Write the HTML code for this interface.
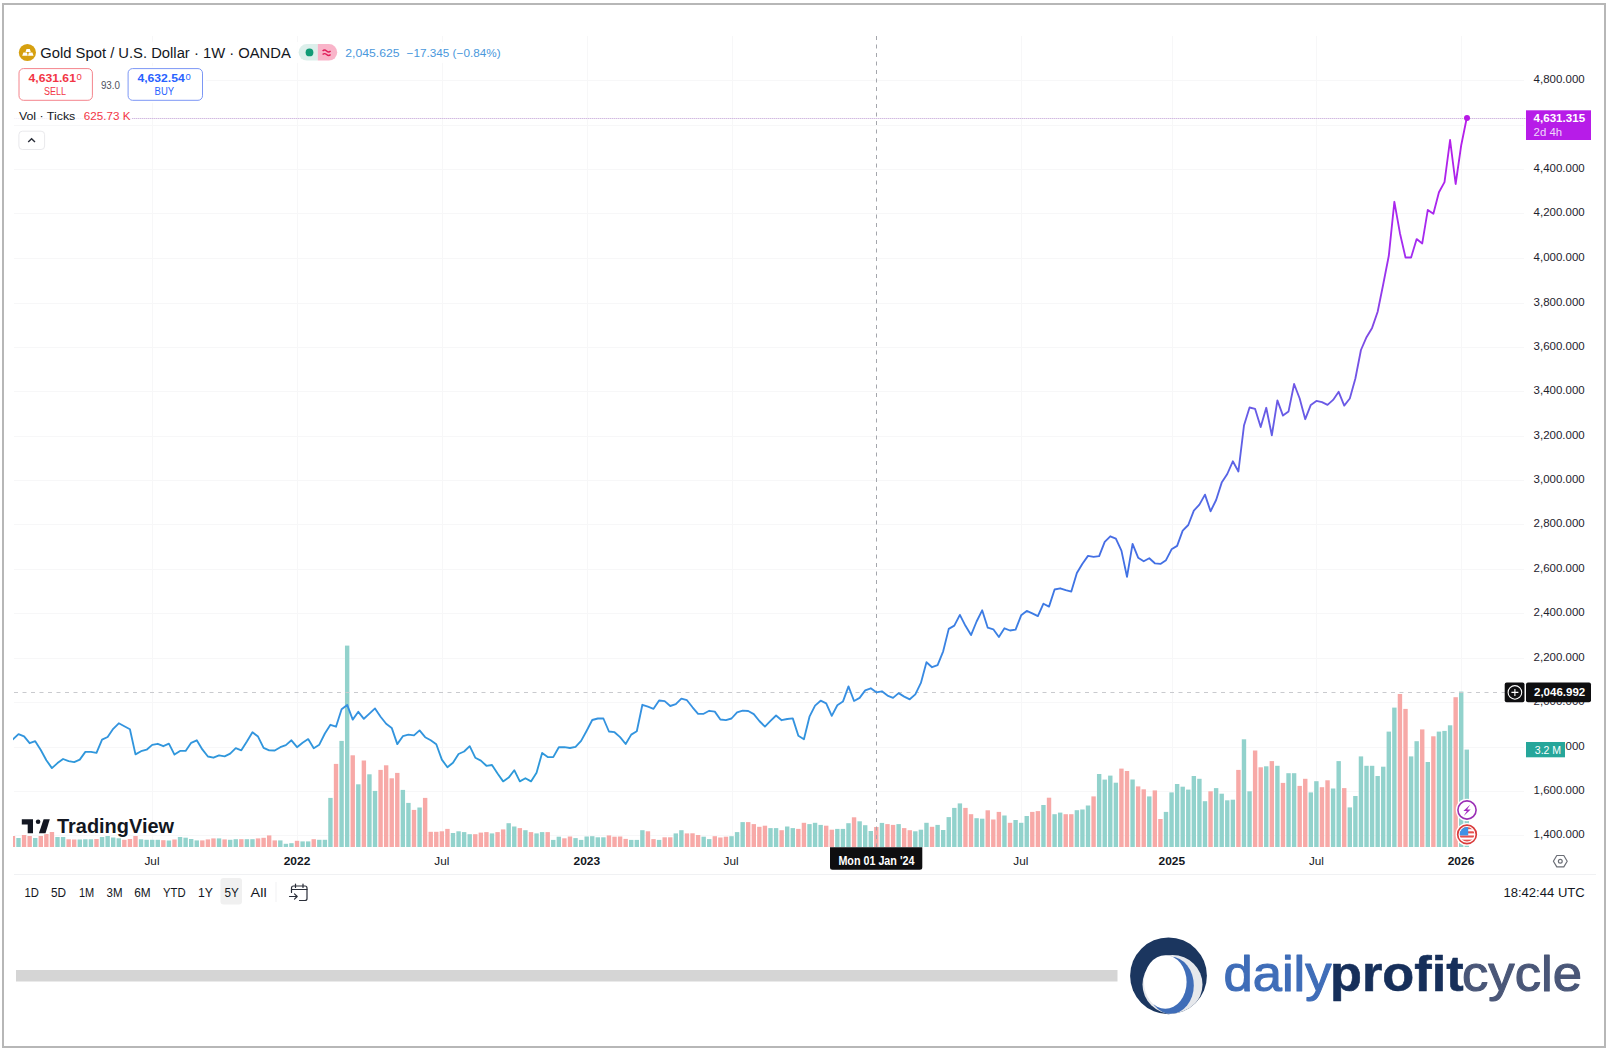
<!DOCTYPE html><html><head><meta charset="utf-8"><title>Gold Spot / U.S. Dollar</title>
<style>html,body{margin:0;padding:0;background:#fff;}body{width:1609px;height:1051px;overflow:hidden;position:relative;font-family:"Liberation Sans",sans-serif;}svg{position:absolute;left:0;top:0;display:block}text{font-family:"Liberation Sans",sans-serif;}</style></head><body>
<svg width="1609" height="1051" viewBox="0 0 1609 1051">
<defs><linearGradient id="lg" gradientUnits="userSpaceOnUse" x1="0" y1="118" x2="0" y2="780"><stop offset="0" stop-color="#b61ee8"/><stop offset="0.2" stop-color="#a42cf0"/><stop offset="0.252" stop-color="#9638ec"/><stop offset="0.311" stop-color="#8248e4"/><stop offset="0.411" stop-color="#6e58e6"/><stop offset="0.683" stop-color="#4071e4"/><stop offset="0.879" stop-color="#3790e2"/><stop offset="1" stop-color="#2c9ad8"/></linearGradient><clipPath id="pane"><rect x="13" y="36" width="1511" height="811.5"/></clipPath></defs>
<rect x="0" y="0" width="1609" height="1051" fill="#ffffff"/>
<rect x="3" y="4" width="1602" height="1043" fill="none" stroke="#b7b7b7" stroke-width="2"/>
<rect x="152" y="36" width="1" height="811" fill="#f7f7f8"/>
<rect x="297" y="36" width="1" height="811" fill="#f7f7f8"/>
<rect x="442" y="36" width="1" height="811" fill="#f7f7f8"/>
<rect x="587" y="36" width="1" height="811" fill="#f7f7f8"/>
<rect x="732" y="36" width="1" height="811" fill="#f7f7f8"/>
<rect x="1021" y="36" width="1" height="811" fill="#f7f7f8"/>
<rect x="1172" y="36" width="1" height="811" fill="#f7f7f8"/>
<rect x="1316" y="36" width="1" height="811" fill="#f7f7f8"/>
<rect x="1461" y="36" width="1" height="811" fill="#f7f7f8"/>
<rect x="14" y="835" width="1510" height="1" fill="#f7f7f8"/>
<rect x="14" y="791" width="1510" height="1" fill="#f7f7f8"/>
<rect x="14" y="747" width="1510" height="1" fill="#f7f7f8"/>
<rect x="14" y="702" width="1510" height="1" fill="#f7f7f8"/>
<rect x="14" y="658" width="1510" height="1" fill="#f7f7f8"/>
<rect x="14" y="613" width="1510" height="1" fill="#f7f7f8"/>
<rect x="14" y="569" width="1510" height="1" fill="#f7f7f8"/>
<rect x="14" y="524" width="1510" height="1" fill="#f7f7f8"/>
<rect x="14" y="480" width="1510" height="1" fill="#f7f7f8"/>
<rect x="14" y="436" width="1510" height="1" fill="#f7f7f8"/>
<rect x="14" y="391" width="1510" height="1" fill="#f7f7f8"/>
<rect x="14" y="347" width="1510" height="1" fill="#f7f7f8"/>
<rect x="14" y="303" width="1510" height="1" fill="#f7f7f8"/>
<rect x="14" y="258" width="1510" height="1" fill="#f7f7f8"/>
<rect x="14" y="213" width="1510" height="1" fill="#f7f7f8"/>
<rect x="14" y="169" width="1510" height="1" fill="#f7f7f8"/>
<rect x="14" y="125" width="1510" height="1" fill="#f7f7f8"/>
<rect x="14" y="80" width="1510" height="1" fill="#f7f7f8"/>
<g clip-path="url(#pane)">
<rect x="10.74" y="836.0" width="4.4" height="11.0" fill="#f7a9a7"/>
<rect x="16.31" y="838.0" width="4.4" height="9.0" fill="#92d2cc"/>
<rect x="21.88" y="835.0" width="4.4" height="12.0" fill="#f7a9a7"/>
<rect x="27.45" y="836.0" width="4.4" height="11.0" fill="#f7a9a7"/>
<rect x="33.02" y="838.0" width="4.4" height="9.0" fill="#92d2cc"/>
<rect x="38.59" y="836.0" width="4.4" height="11.0" fill="#f7a9a7"/>
<rect x="44.16" y="834.0" width="4.4" height="13.0" fill="#f7a9a7"/>
<rect x="49.73" y="832.0" width="4.4" height="15.0" fill="#f7a9a7"/>
<rect x="55.30" y="837.0" width="4.4" height="10.0" fill="#92d2cc"/>
<rect x="60.87" y="837.0" width="4.4" height="10.0" fill="#92d2cc"/>
<rect x="66.44" y="839.3" width="4.4" height="7.7" fill="#f7a9a7"/>
<rect x="72.01" y="839.5" width="4.4" height="7.5" fill="#f7a9a7"/>
<rect x="77.58" y="839.5" width="4.4" height="7.5" fill="#92d2cc"/>
<rect x="83.15" y="839.3" width="4.4" height="7.7" fill="#92d2cc"/>
<rect x="88.72" y="839.3" width="4.4" height="7.7" fill="#92d2cc"/>
<rect x="94.29" y="839.0" width="4.4" height="8.0" fill="#f7a9a7"/>
<rect x="99.86" y="837.0" width="4.4" height="10.0" fill="#92d2cc"/>
<rect x="105.44" y="836.0" width="4.4" height="11.0" fill="#92d2cc"/>
<rect x="111.01" y="837.5" width="4.4" height="9.5" fill="#92d2cc"/>
<rect x="116.58" y="838.3" width="4.4" height="8.7" fill="#92d2cc"/>
<rect x="122.15" y="839.8" width="4.4" height="7.2" fill="#f7a9a7"/>
<rect x="127.72" y="839.0" width="4.4" height="8.0" fill="#f7a9a7"/>
<rect x="133.29" y="836.0" width="4.4" height="11.0" fill="#f7a9a7"/>
<rect x="138.86" y="839.3" width="4.4" height="7.7" fill="#92d2cc"/>
<rect x="144.43" y="839.8" width="4.4" height="7.2" fill="#92d2cc"/>
<rect x="150.00" y="839.8" width="4.4" height="7.2" fill="#92d2cc"/>
<rect x="155.57" y="839.8" width="4.4" height="7.2" fill="#92d2cc"/>
<rect x="161.14" y="840.2" width="4.4" height="6.8" fill="#f7a9a7"/>
<rect x="166.71" y="840.5" width="4.4" height="6.5" fill="#92d2cc"/>
<rect x="172.28" y="839.5" width="4.4" height="7.5" fill="#f7a9a7"/>
<rect x="177.85" y="837.0" width="4.4" height="10.0" fill="#92d2cc"/>
<rect x="183.42" y="837.7" width="4.4" height="9.3" fill="#92d2cc"/>
<rect x="188.99" y="839.0" width="4.4" height="8.0" fill="#92d2cc"/>
<rect x="194.56" y="840.4" width="4.4" height="6.6" fill="#92d2cc"/>
<rect x="200.13" y="840.4" width="4.4" height="6.6" fill="#f7a9a7"/>
<rect x="205.70" y="839.4" width="4.4" height="7.6" fill="#f7a9a7"/>
<rect x="211.27" y="838.4" width="4.4" height="8.6" fill="#f7a9a7"/>
<rect x="216.84" y="838.4" width="4.4" height="8.6" fill="#92d2cc"/>
<rect x="222.41" y="839.4" width="4.4" height="7.6" fill="#f7a9a7"/>
<rect x="227.98" y="839.8" width="4.4" height="7.2" fill="#92d2cc"/>
<rect x="233.55" y="839.2" width="4.4" height="7.8" fill="#92d2cc"/>
<rect x="239.12" y="839.2" width="4.4" height="7.8" fill="#f7a9a7"/>
<rect x="244.69" y="839.2" width="4.4" height="7.8" fill="#92d2cc"/>
<rect x="250.26" y="839.2" width="4.4" height="7.8" fill="#92d2cc"/>
<rect x="255.83" y="838.4" width="4.4" height="8.6" fill="#f7a9a7"/>
<rect x="261.40" y="837.8" width="4.4" height="9.2" fill="#f7a9a7"/>
<rect x="266.97" y="835.4" width="4.4" height="11.6" fill="#f7a9a7"/>
<rect x="272.54" y="840.4" width="4.4" height="6.6" fill="#f7a9a7"/>
<rect x="278.11" y="840.4" width="4.4" height="6.6" fill="#92d2cc"/>
<rect x="283.68" y="843.8" width="4.4" height="3.2" fill="#92d2cc"/>
<rect x="289.25" y="843.2" width="4.4" height="3.8" fill="#92d2cc"/>
<rect x="294.83" y="840.8" width="4.4" height="6.2" fill="#f7a9a7"/>
<rect x="300.40" y="841.4" width="4.4" height="5.6" fill="#92d2cc"/>
<rect x="305.97" y="841.4" width="4.4" height="5.6" fill="#92d2cc"/>
<rect x="311.54" y="839.2" width="4.4" height="7.8" fill="#f7a9a7"/>
<rect x="317.11" y="839.8" width="4.4" height="7.2" fill="#92d2cc"/>
<rect x="322.68" y="839.8" width="4.4" height="7.2" fill="#92d2cc"/>
<rect x="328.25" y="797.9" width="4.4" height="49.1" fill="#92d2cc"/>
<rect x="333.82" y="763.9" width="4.4" height="83.1" fill="#f7a9a7"/>
<rect x="339.39" y="740.9" width="4.4" height="106.1" fill="#92d2cc"/>
<rect x="344.96" y="645.6" width="4.4" height="201.4" fill="#92d2cc"/>
<rect x="350.53" y="755.3" width="4.4" height="91.7" fill="#f7a9a7"/>
<rect x="356.10" y="784.3" width="4.4" height="62.7" fill="#92d2cc"/>
<rect x="361.67" y="760.5" width="4.4" height="86.5" fill="#f7a9a7"/>
<rect x="367.24" y="774.3" width="4.4" height="72.7" fill="#92d2cc"/>
<rect x="372.81" y="790.9" width="4.4" height="56.1" fill="#92d2cc"/>
<rect x="378.38" y="769.9" width="4.4" height="77.1" fill="#f7a9a7"/>
<rect x="383.95" y="765.3" width="4.4" height="81.7" fill="#f7a9a7"/>
<rect x="389.52" y="778.3" width="4.4" height="68.7" fill="#f7a9a7"/>
<rect x="395.09" y="772.9" width="4.4" height="74.1" fill="#f7a9a7"/>
<rect x="400.66" y="789.9" width="4.4" height="57.1" fill="#92d2cc"/>
<rect x="406.23" y="802.9" width="4.4" height="44.1" fill="#92d2cc"/>
<rect x="411.80" y="809.9" width="4.4" height="37.1" fill="#f7a9a7"/>
<rect x="417.37" y="807.5" width="4.4" height="39.5" fill="#92d2cc"/>
<rect x="422.94" y="797.9" width="4.4" height="49.1" fill="#f7a9a7"/>
<rect x="428.51" y="831.8" width="4.4" height="15.2" fill="#f7a9a7"/>
<rect x="434.08" y="831.8" width="4.4" height="15.2" fill="#f7a9a7"/>
<rect x="439.65" y="831.3" width="4.4" height="15.7" fill="#f7a9a7"/>
<rect x="445.22" y="828.9" width="4.4" height="18.1" fill="#f7a9a7"/>
<rect x="450.79" y="833.0" width="4.4" height="14.0" fill="#92d2cc"/>
<rect x="456.36" y="831.3" width="4.4" height="15.7" fill="#92d2cc"/>
<rect x="461.93" y="832.1" width="4.4" height="14.9" fill="#92d2cc"/>
<rect x="467.50" y="834.2" width="4.4" height="12.8" fill="#92d2cc"/>
<rect x="473.07" y="834.2" width="4.4" height="12.8" fill="#f7a9a7"/>
<rect x="478.65" y="832.6" width="4.4" height="14.4" fill="#f7a9a7"/>
<rect x="484.22" y="832.1" width="4.4" height="14.9" fill="#f7a9a7"/>
<rect x="489.79" y="833.4" width="4.4" height="13.6" fill="#92d2cc"/>
<rect x="495.36" y="832.1" width="4.4" height="14.9" fill="#f7a9a7"/>
<rect x="500.93" y="829.4" width="4.4" height="17.6" fill="#f7a9a7"/>
<rect x="506.50" y="823.2" width="4.4" height="23.8" fill="#92d2cc"/>
<rect x="512.07" y="826.5" width="4.4" height="20.5" fill="#92d2cc"/>
<rect x="517.64" y="828.1" width="4.4" height="18.9" fill="#f7a9a7"/>
<rect x="523.21" y="830.2" width="4.4" height="16.8" fill="#92d2cc"/>
<rect x="528.78" y="832.1" width="4.4" height="14.9" fill="#f7a9a7"/>
<rect x="534.35" y="833.4" width="4.4" height="13.6" fill="#92d2cc"/>
<rect x="539.92" y="832.1" width="4.4" height="14.9" fill="#92d2cc"/>
<rect x="545.49" y="832.1" width="4.4" height="14.9" fill="#f7a9a7"/>
<rect x="551.06" y="839.9" width="4.4" height="7.1" fill="#92d2cc"/>
<rect x="556.63" y="836.7" width="4.4" height="10.3" fill="#92d2cc"/>
<rect x="562.20" y="838.3" width="4.4" height="8.7" fill="#f7a9a7"/>
<rect x="567.77" y="836.5" width="4.4" height="10.5" fill="#f7a9a7"/>
<rect x="573.34" y="838.1" width="4.4" height="8.9" fill="#92d2cc"/>
<rect x="578.91" y="839.9" width="4.4" height="7.1" fill="#92d2cc"/>
<rect x="584.48" y="836.5" width="4.4" height="10.5" fill="#92d2cc"/>
<rect x="590.05" y="836.2" width="4.4" height="10.8" fill="#92d2cc"/>
<rect x="595.62" y="837.3" width="4.4" height="9.7" fill="#92d2cc"/>
<rect x="601.19" y="837.3" width="4.4" height="9.7" fill="#92d2cc"/>
<rect x="606.76" y="835.4" width="4.4" height="11.6" fill="#f7a9a7"/>
<rect x="612.33" y="836.7" width="4.4" height="10.3" fill="#f7a9a7"/>
<rect x="617.90" y="836.5" width="4.4" height="10.5" fill="#f7a9a7"/>
<rect x="623.47" y="838.9" width="4.4" height="8.1" fill="#f7a9a7"/>
<rect x="629.04" y="839.9" width="4.4" height="7.1" fill="#92d2cc"/>
<rect x="634.61" y="839.9" width="4.4" height="7.1" fill="#92d2cc"/>
<rect x="640.18" y="830.2" width="4.4" height="16.8" fill="#92d2cc"/>
<rect x="645.75" y="831.3" width="4.4" height="15.7" fill="#f7a9a7"/>
<rect x="651.32" y="839.1" width="4.4" height="7.9" fill="#f7a9a7"/>
<rect x="656.89" y="839.9" width="4.4" height="7.1" fill="#92d2cc"/>
<rect x="662.47" y="837.3" width="4.4" height="9.7" fill="#f7a9a7"/>
<rect x="668.04" y="837.3" width="4.4" height="9.7" fill="#f7a9a7"/>
<rect x="673.61" y="833.4" width="4.4" height="13.6" fill="#92d2cc"/>
<rect x="679.18" y="830.2" width="4.4" height="16.8" fill="#92d2cc"/>
<rect x="684.75" y="833.4" width="4.4" height="13.6" fill="#f7a9a7"/>
<rect x="690.32" y="833.3" width="4.4" height="13.7" fill="#f7a9a7"/>
<rect x="695.89" y="835.0" width="4.4" height="12.0" fill="#f7a9a7"/>
<rect x="701.46" y="836.7" width="4.4" height="10.3" fill="#92d2cc"/>
<rect x="707.03" y="839.1" width="4.4" height="7.9" fill="#92d2cc"/>
<rect x="712.60" y="836.2" width="4.4" height="10.8" fill="#f7a9a7"/>
<rect x="718.17" y="837.5" width="4.4" height="9.5" fill="#f7a9a7"/>
<rect x="723.74" y="836.7" width="4.4" height="10.3" fill="#f7a9a7"/>
<rect x="729.31" y="836.2" width="4.4" height="10.8" fill="#92d2cc"/>
<rect x="734.88" y="832.1" width="4.4" height="14.9" fill="#92d2cc"/>
<rect x="740.45" y="822.1" width="4.4" height="24.9" fill="#92d2cc"/>
<rect x="746.02" y="822.1" width="4.4" height="24.9" fill="#f7a9a7"/>
<rect x="751.59" y="824.1" width="4.4" height="22.9" fill="#f7a9a7"/>
<rect x="757.16" y="826.8" width="4.4" height="20.2" fill="#f7a9a7"/>
<rect x="762.73" y="825.7" width="4.4" height="21.3" fill="#f7a9a7"/>
<rect x="768.30" y="828.1" width="4.4" height="18.9" fill="#92d2cc"/>
<rect x="773.87" y="828.1" width="4.4" height="18.9" fill="#92d2cc"/>
<rect x="779.44" y="830.2" width="4.4" height="16.8" fill="#f7a9a7"/>
<rect x="785.01" y="826.5" width="4.4" height="20.5" fill="#92d2cc"/>
<rect x="790.58" y="828.1" width="4.4" height="18.9" fill="#92d2cc"/>
<rect x="796.15" y="828.9" width="4.4" height="18.1" fill="#f7a9a7"/>
<rect x="801.72" y="822.8" width="4.4" height="24.2" fill="#f7a9a7"/>
<rect x="807.29" y="824.1" width="4.4" height="22.9" fill="#92d2cc"/>
<rect x="812.86" y="822.8" width="4.4" height="24.2" fill="#92d2cc"/>
<rect x="818.43" y="824.9" width="4.4" height="22.1" fill="#92d2cc"/>
<rect x="824.00" y="825.7" width="4.4" height="21.3" fill="#f7a9a7"/>
<rect x="829.57" y="829.7" width="4.4" height="17.3" fill="#f7a9a7"/>
<rect x="835.14" y="828.9" width="4.4" height="18.1" fill="#92d2cc"/>
<rect x="840.71" y="828.9" width="4.4" height="18.1" fill="#92d2cc"/>
<rect x="846.28" y="823.2" width="4.4" height="23.8" fill="#92d2cc"/>
<rect x="851.86" y="817.3" width="4.4" height="29.7" fill="#f7a9a7"/>
<rect x="857.43" y="821.3" width="4.4" height="25.7" fill="#92d2cc"/>
<rect x="863.00" y="825.2" width="4.4" height="21.8" fill="#92d2cc"/>
<rect x="868.57" y="831.0" width="4.4" height="16.0" fill="#92d2cc"/>
<rect x="874.14" y="827.0" width="4.4" height="20.0" fill="#f7a9a7"/>
<rect x="879.71" y="822.9" width="4.4" height="24.1" fill="#92d2cc"/>
<rect x="885.28" y="824.1" width="4.4" height="22.9" fill="#f7a9a7"/>
<rect x="890.85" y="824.9" width="4.4" height="22.1" fill="#f7a9a7"/>
<rect x="896.42" y="824.1" width="4.4" height="22.9" fill="#92d2cc"/>
<rect x="901.99" y="828.1" width="4.4" height="18.9" fill="#f7a9a7"/>
<rect x="907.56" y="830.2" width="4.4" height="16.8" fill="#f7a9a7"/>
<rect x="913.13" y="831.3" width="4.4" height="15.7" fill="#92d2cc"/>
<rect x="918.70" y="829.7" width="4.4" height="17.3" fill="#92d2cc"/>
<rect x="924.27" y="822.8" width="4.4" height="24.2" fill="#92d2cc"/>
<rect x="929.84" y="826.8" width="4.4" height="20.2" fill="#f7a9a7"/>
<rect x="935.41" y="824.9" width="4.4" height="22.1" fill="#92d2cc"/>
<rect x="940.98" y="830.0" width="4.4" height="17.0" fill="#92d2cc"/>
<rect x="946.55" y="817.1" width="4.4" height="29.9" fill="#92d2cc"/>
<rect x="952.12" y="807.9" width="4.4" height="39.1" fill="#92d2cc"/>
<rect x="957.69" y="803.4" width="4.4" height="43.6" fill="#92d2cc"/>
<rect x="963.26" y="807.9" width="4.4" height="39.1" fill="#f7a9a7"/>
<rect x="968.83" y="814.2" width="4.4" height="32.8" fill="#f7a9a7"/>
<rect x="974.40" y="818.2" width="4.4" height="28.8" fill="#92d2cc"/>
<rect x="979.97" y="818.7" width="4.4" height="28.3" fill="#92d2cc"/>
<rect x="985.54" y="810.3" width="4.4" height="36.7" fill="#f7a9a7"/>
<rect x="991.11" y="819.5" width="4.4" height="27.5" fill="#f7a9a7"/>
<rect x="996.68" y="811.9" width="4.4" height="35.1" fill="#f7a9a7"/>
<rect x="1002.25" y="815.5" width="4.4" height="31.5" fill="#92d2cc"/>
<rect x="1007.82" y="822.8" width="4.4" height="24.2" fill="#f7a9a7"/>
<rect x="1013.39" y="820.0" width="4.4" height="27.0" fill="#92d2cc"/>
<rect x="1018.96" y="822.8" width="4.4" height="24.2" fill="#92d2cc"/>
<rect x="1024.53" y="816.0" width="4.4" height="31.0" fill="#92d2cc"/>
<rect x="1030.10" y="811.9" width="4.4" height="35.1" fill="#f7a9a7"/>
<rect x="1035.68" y="811.1" width="4.4" height="35.9" fill="#f7a9a7"/>
<rect x="1041.25" y="805.0" width="4.4" height="42.0" fill="#92d2cc"/>
<rect x="1046.82" y="797.7" width="4.4" height="49.3" fill="#f7a9a7"/>
<rect x="1052.39" y="814.2" width="4.4" height="32.8" fill="#92d2cc"/>
<rect x="1057.96" y="812.6" width="4.4" height="34.4" fill="#92d2cc"/>
<rect x="1063.53" y="814.2" width="4.4" height="32.8" fill="#f7a9a7"/>
<rect x="1069.10" y="814.2" width="4.4" height="32.8" fill="#f7a9a7"/>
<rect x="1074.67" y="810.2" width="4.4" height="36.8" fill="#92d2cc"/>
<rect x="1080.24" y="809.5" width="4.4" height="37.5" fill="#92d2cc"/>
<rect x="1085.81" y="805.5" width="4.4" height="41.5" fill="#92d2cc"/>
<rect x="1091.38" y="796.4" width="4.4" height="50.6" fill="#f7a9a7"/>
<rect x="1096.95" y="774.0" width="4.4" height="73.0" fill="#92d2cc"/>
<rect x="1102.52" y="779.6" width="4.4" height="67.4" fill="#92d2cc"/>
<rect x="1108.09" y="775.6" width="4.4" height="71.4" fill="#92d2cc"/>
<rect x="1113.66" y="782.7" width="4.4" height="64.3" fill="#92d2cc"/>
<rect x="1119.23" y="768.6" width="4.4" height="78.4" fill="#f7a9a7"/>
<rect x="1124.80" y="771.0" width="4.4" height="76.0" fill="#f7a9a7"/>
<rect x="1130.37" y="779.5" width="4.4" height="67.5" fill="#92d2cc"/>
<rect x="1135.94" y="786.4" width="4.4" height="60.6" fill="#f7a9a7"/>
<rect x="1141.51" y="789.3" width="4.4" height="57.7" fill="#f7a9a7"/>
<rect x="1147.08" y="796.4" width="4.4" height="50.6" fill="#92d2cc"/>
<rect x="1152.65" y="790.4" width="4.4" height="56.6" fill="#f7a9a7"/>
<rect x="1158.22" y="819.0" width="4.4" height="28.0" fill="#f7a9a7"/>
<rect x="1163.79" y="811.9" width="4.4" height="35.1" fill="#92d2cc"/>
<rect x="1169.36" y="792.4" width="4.4" height="54.6" fill="#92d2cc"/>
<rect x="1174.93" y="784.0" width="4.4" height="63.0" fill="#92d2cc"/>
<rect x="1180.50" y="786.7" width="4.4" height="60.3" fill="#92d2cc"/>
<rect x="1186.07" y="789.6" width="4.4" height="57.4" fill="#92d2cc"/>
<rect x="1191.64" y="776.0" width="4.4" height="71.0" fill="#92d2cc"/>
<rect x="1197.21" y="778.8" width="4.4" height="68.2" fill="#92d2cc"/>
<rect x="1202.78" y="801.2" width="4.4" height="45.8" fill="#92d2cc"/>
<rect x="1208.35" y="791.3" width="4.4" height="55.7" fill="#f7a9a7"/>
<rect x="1213.92" y="788.1" width="4.4" height="58.9" fill="#92d2cc"/>
<rect x="1219.50" y="793.7" width="4.4" height="53.3" fill="#92d2cc"/>
<rect x="1225.07" y="800.3" width="4.4" height="46.7" fill="#92d2cc"/>
<rect x="1230.64" y="799.7" width="4.4" height="47.3" fill="#92d2cc"/>
<rect x="1236.21" y="769.9" width="4.4" height="77.1" fill="#f7a9a7"/>
<rect x="1241.78" y="739.3" width="4.4" height="107.7" fill="#92d2cc"/>
<rect x="1247.35" y="791.3" width="4.4" height="55.7" fill="#92d2cc"/>
<rect x="1252.92" y="750.5" width="4.4" height="96.5" fill="#f7a9a7"/>
<rect x="1258.49" y="767.3" width="4.4" height="79.7" fill="#f7a9a7"/>
<rect x="1264.06" y="766.3" width="4.4" height="80.7" fill="#92d2cc"/>
<rect x="1269.63" y="761.1" width="4.4" height="85.9" fill="#f7a9a7"/>
<rect x="1275.20" y="765.8" width="4.4" height="81.2" fill="#92d2cc"/>
<rect x="1280.77" y="782.9" width="4.4" height="64.1" fill="#f7a9a7"/>
<rect x="1286.34" y="773.2" width="4.4" height="73.8" fill="#92d2cc"/>
<rect x="1291.91" y="773.2" width="4.4" height="73.8" fill="#92d2cc"/>
<rect x="1297.48" y="785.9" width="4.4" height="61.1" fill="#f7a9a7"/>
<rect x="1303.05" y="778.8" width="4.4" height="68.2" fill="#f7a9a7"/>
<rect x="1308.62" y="792.4" width="4.4" height="54.6" fill="#92d2cc"/>
<rect x="1314.19" y="781.2" width="4.4" height="65.8" fill="#92d2cc"/>
<rect x="1319.76" y="787.2" width="4.4" height="59.8" fill="#f7a9a7"/>
<rect x="1325.33" y="780.3" width="4.4" height="66.7" fill="#f7a9a7"/>
<rect x="1330.90" y="788.5" width="4.4" height="58.5" fill="#92d2cc"/>
<rect x="1336.47" y="761.1" width="4.4" height="85.9" fill="#92d2cc"/>
<rect x="1342.04" y="788.1" width="4.4" height="58.9" fill="#f7a9a7"/>
<rect x="1347.61" y="807.4" width="4.4" height="39.6" fill="#92d2cc"/>
<rect x="1353.18" y="796.0" width="4.4" height="51.0" fill="#92d2cc"/>
<rect x="1358.75" y="756.4" width="4.4" height="90.6" fill="#92d2cc"/>
<rect x="1364.32" y="765.8" width="4.4" height="81.2" fill="#92d2cc"/>
<rect x="1369.89" y="765.8" width="4.4" height="81.2" fill="#92d2cc"/>
<rect x="1375.46" y="776.0" width="4.4" height="71.0" fill="#92d2cc"/>
<rect x="1381.03" y="766.7" width="4.4" height="80.3" fill="#92d2cc"/>
<rect x="1386.60" y="731.6" width="4.4" height="115.4" fill="#92d2cc"/>
<rect x="1392.17" y="707.6" width="4.4" height="139.4" fill="#92d2cc"/>
<rect x="1397.74" y="694.0" width="4.4" height="153.0" fill="#f7a9a7"/>
<rect x="1403.31" y="708.9" width="4.4" height="138.1" fill="#f7a9a7"/>
<rect x="1408.89" y="756.4" width="4.4" height="90.6" fill="#92d2cc"/>
<rect x="1414.46" y="741.2" width="4.4" height="105.8" fill="#92d2cc"/>
<rect x="1420.03" y="729.4" width="4.4" height="117.6" fill="#f7a9a7"/>
<rect x="1425.60" y="762.0" width="4.4" height="85.0" fill="#92d2cc"/>
<rect x="1431.17" y="736.3" width="4.4" height="110.7" fill="#f7a9a7"/>
<rect x="1436.74" y="731.6" width="4.4" height="115.4" fill="#92d2cc"/>
<rect x="1442.31" y="730.9" width="4.4" height="116.1" fill="#92d2cc"/>
<rect x="1447.88" y="725.3" width="4.4" height="121.7" fill="#92d2cc"/>
<rect x="1453.45" y="697.2" width="4.4" height="149.8" fill="#f7a9a7"/>
<rect x="1459.02" y="691.6" width="4.4" height="155.4" fill="#92d2cc"/>
<rect x="1464.59" y="749.6" width="4.4" height="97.4" fill="#92d2cc"/>
</g>
<line x1="14" y1="118.500" x2="1526" y2="118.500" stroke="#eadff1" stroke-width="1"/><line x1="14" y1="118.500" x2="1526" y2="118.500" stroke="#c9addb" stroke-width="1" stroke-dasharray="1 1" stroke-opacity="0.75"/>
<line x1="14" y1="692.5" x2="1505" y2="692.5" stroke="#c9cace" stroke-width="1" stroke-dasharray="4 4.5"/>
<line x1="876.5" y1="36" x2="876.5" y2="847" stroke="#a4a6ac" stroke-width="1" stroke-dasharray="4 4.5"/>
<polyline clip-path="url(#pane)" points="12.94,739.3 18.51,734.1 24.08,736.4 29.65,743.2 35.22,741.2 40.79,750.0 46.36,760.2 51.93,768.1 57.50,763.1 63.07,759.0 68.64,761.2 74.21,762.1 79.78,759.6 85.35,751.9 90.92,751.8 96.49,752.8 102.06,739.7 107.64,737.0 113.21,728.8 118.78,723.3 124.35,726.3 129.92,729.2 135.49,754.4 141.06,751.2 146.63,749.7 152.20,744.9 157.77,743.8 163.34,746.2 168.91,743.7 174.48,754.6 180.05,750.9 185.62,750.9 191.19,742.8 196.76,740.3 202.33,749.4 207.90,756.5 213.47,757.7 219.04,755.3 224.61,756.3 230.18,753.6 235.75,748.2 241.32,750.3 246.89,741.6 252.46,732.3 258.03,736.6 263.60,747.8 269.17,750.3 274.74,750.5 280.31,747.2 285.88,745.1 291.45,740.3 297.03,747.2 302.60,742.8 308.17,739.1 313.74,748.2 319.31,744.7 324.88,733.5 330.45,724.8 336.02,726.7 341.59,709.3 347.16,704.9 352.73,719.6 358.30,711.8 363.87,718.8 369.44,713.6 375.01,708.4 380.58,716.7 386.15,723.8 391.72,727.9 397.29,744.1 402.86,736.2 408.43,734.7 414.00,735.4 419.57,730.4 425.14,737.2 430.71,740.3 436.28,744.3 441.85,759.6 447.42,767.3 452.99,762.7 458.56,754.0 464.13,751.5 469.70,746.2 475.27,757.7 480.85,760.6 486.42,765.8 491.99,765.0 497.56,773.5 503.13,781.4 508.70,777.6 514.27,770.2 519.84,781.4 525.41,778.3 530.98,781.4 536.55,772.7 542.12,753.0 547.69,757.1 553.26,757.1 558.83,747.2 564.40,747.2 569.97,748.0 575.54,746.8 581.11,740.9 586.68,730.7 592.25,720.0 597.82,718.5 603.39,718.5 608.96,731.5 614.53,732.2 620.10,737.1 625.67,744.0 631.24,734.6 636.81,731.3 642.38,704.8 647.95,706.7 653.52,708.8 659.09,700.5 664.67,701.1 670.24,706.0 675.81,704.2 681.38,698.6 686.95,700.2 692.52,707.3 698.09,713.8 703.66,713.8 709.23,710.8 714.80,711.6 720.37,719.5 725.94,720.1 731.51,718.5 737.08,712.3 742.65,710.6 748.22,711.0 753.79,714.1 759.36,721.0 764.93,726.6 770.50,720.9 776.07,715.5 781.64,720.2 787.21,719.0 792.78,718.4 798.35,735.8 803.92,739.2 809.49,716.7 815.06,705.6 820.63,700.7 826.20,703.4 831.77,715.9 837.34,705.3 842.91,701.6 848.49,686.4 854.06,701.0 859.63,697.9 865.20,690.4 870.77,688.3 876.34,692.3 881.91,691.3 887.48,695.6 893.05,697.9 898.62,693.1 904.19,696.6 909.76,699.3 915.33,694.4 920.90,682.9 926.47,662.2 932.04,667.2 937.61,665.1 943.18,651.3 948.75,628.9 954.32,625.6 959.89,614.9 965.46,625.8 971.03,635.1 976.60,621.5 982.17,610.3 987.74,627.7 993.31,629.3 998.88,637.0 1004.45,628.3 1010.02,630.5 1015.59,629.6 1021.16,615.3 1026.73,610.9 1032.30,613.4 1037.88,616.1 1043.45,603.7 1049.02,606.6 1054.59,589.5 1060.16,588.3 1065.73,590.1 1071.30,591.6 1076.87,573.0 1082.44,563.7 1088.01,555.9 1093.58,556.9 1099.15,556.2 1104.72,541.9 1110.29,536.3 1115.86,538.6 1121.43,550.6 1127.00,576.9 1132.57,543.9 1138.14,557.7 1143.71,561.3 1149.28,558.2 1154.85,563.3 1160.42,563.9 1165.99,560.2 1171.56,549.3 1177.13,545.9 1182.70,530.6 1188.27,525.0 1193.84,510.6 1199.41,504.6 1204.98,494.6 1210.55,511.3 1216.12,500.0 1221.70,482.6 1227.27,474.0 1232.84,461.3 1238.41,471.5 1243.98,425.6 1249.55,407.5 1255.12,408.9 1260.69,427.1 1266.26,407.8 1271.83,435.3 1277.40,400.4 1282.97,415.6 1288.54,411.4 1294.11,384.0 1299.68,398.5 1305.25,419.2 1310.82,404.9 1316.39,400.9 1321.96,402.1 1327.53,404.9 1333.10,399.9 1338.67,391.8 1344.24,405.6 1349.81,398.5 1355.38,378.5 1360.95,350.0 1366.52,337.2 1372.09,327.9 1377.66,311.7 1383.23,284.3 1388.80,255.8 1394.37,201.8 1399.94,233.2 1405.51,257.5 1411.09,257.5 1416.66,239.1 1422.23,243.4 1427.80,209.9 1433.37,213.7 1438.94,192.3 1444.51,182.1 1450.08,140.0 1455.65,184.0 1461.22,145.2 1466.79,117.8" fill="none" stroke="url(#lg)" stroke-width="1.85" stroke-linejoin="round" stroke-linecap="round"/>
<circle cx="1467" cy="118" r="3" fill="#b718e6"/>
<text x="1533.6" y="838.4" font-size="11.2" fill="#1e222d" font-weight="normal" text-anchor="start" textLength="51.1" lengthAdjust="spacingAndGlyphs" >1,400.000</text>
<text x="1533.6" y="794.4" font-size="11.2" fill="#1e222d" font-weight="normal" text-anchor="start" textLength="51.1" lengthAdjust="spacingAndGlyphs" >1,600.000</text>
<text x="1533.6" y="750.4" font-size="11.2" fill="#1e222d" font-weight="normal" text-anchor="start" textLength="51.1" lengthAdjust="spacingAndGlyphs" >1,800.000</text>
<text x="1533.6" y="705.4" font-size="11.2" fill="#1e222d" font-weight="normal" text-anchor="start" textLength="51.1" lengthAdjust="spacingAndGlyphs" >2,000.000</text>
<text x="1533.6" y="661.4" font-size="11.2" fill="#1e222d" font-weight="normal" text-anchor="start" textLength="51.1" lengthAdjust="spacingAndGlyphs" >2,200.000</text>
<text x="1533.6" y="616.4" font-size="11.2" fill="#1e222d" font-weight="normal" text-anchor="start" textLength="51.1" lengthAdjust="spacingAndGlyphs" >2,400.000</text>
<text x="1533.6" y="572.4" font-size="11.2" fill="#1e222d" font-weight="normal" text-anchor="start" textLength="51.1" lengthAdjust="spacingAndGlyphs" >2,600.000</text>
<text x="1533.6" y="527.4" font-size="11.2" fill="#1e222d" font-weight="normal" text-anchor="start" textLength="51.1" lengthAdjust="spacingAndGlyphs" >2,800.000</text>
<text x="1533.6" y="483.4" font-size="11.2" fill="#1e222d" font-weight="normal" text-anchor="start" textLength="51.1" lengthAdjust="spacingAndGlyphs" >3,000.000</text>
<text x="1533.6" y="439.4" font-size="11.2" fill="#1e222d" font-weight="normal" text-anchor="start" textLength="51.1" lengthAdjust="spacingAndGlyphs" >3,200.000</text>
<text x="1533.6" y="394.4" font-size="11.2" fill="#1e222d" font-weight="normal" text-anchor="start" textLength="51.1" lengthAdjust="spacingAndGlyphs" >3,400.000</text>
<text x="1533.6" y="350.4" font-size="11.2" fill="#1e222d" font-weight="normal" text-anchor="start" textLength="51.1" lengthAdjust="spacingAndGlyphs" >3,600.000</text>
<text x="1533.6" y="306.4" font-size="11.2" fill="#1e222d" font-weight="normal" text-anchor="start" textLength="51.1" lengthAdjust="spacingAndGlyphs" >3,800.000</text>
<text x="1533.6" y="261.4" font-size="11.2" fill="#1e222d" font-weight="normal" text-anchor="start" textLength="51.1" lengthAdjust="spacingAndGlyphs" >4,000.000</text>
<text x="1533.6" y="216.4" font-size="11.2" fill="#1e222d" font-weight="normal" text-anchor="start" textLength="51.1" lengthAdjust="spacingAndGlyphs" >4,200.000</text>
<text x="1533.6" y="172.4" font-size="11.2" fill="#1e222d" font-weight="normal" text-anchor="start" textLength="51.1" lengthAdjust="spacingAndGlyphs" >4,400.000</text>
<text x="1533.6" y="83.4" font-size="11.2" fill="#1e222d" font-weight="normal" text-anchor="start" textLength="51.1" lengthAdjust="spacingAndGlyphs" >4,800.000</text>
<rect x="1526" y="110.3" width="65" height="29.7" fill="#b71ce8"/>
<text x="1533.6" y="122.2" font-size="11.5" fill="#fff" font-weight="bold" text-anchor="start" textLength="51.5" lengthAdjust="spacingAndGlyphs" >4,631.315</text>
<text x="1533.6" y="136.0" font-size="11.5" fill="#f0d8fb" font-weight="normal" text-anchor="start" textLength="28.5" lengthAdjust="spacingAndGlyphs" >2d 4h</text>
<rect x="1504.7" y="682.5" width="19.8" height="19.8" rx="2" fill="#0e0e10"/>
<circle cx="1514.9" cy="692.4" r="6.800" fill="none" stroke="#fff" stroke-width="1.100"/>
<path d="M1511.400 692.400h7M1514.900 688.900v7" stroke="#fff" stroke-width="1.1" fill="none"/>
<rect x="1526" y="682.5" width="65" height="19.8" rx="2" fill="#0e0e10"/>
<text x="1534" y="696.3" font-size="11.5" fill="#fff" font-weight="bold" text-anchor="start" textLength="51.2" lengthAdjust="spacingAndGlyphs" >2,046.992</text>
<rect x="1526" y="742" width="39" height="15.3" fill="#26a69a"/>
<text x="1534.8" y="753.7" font-size="11.5" fill="#fff" font-weight="normal" text-anchor="start" textLength="26.3" lengthAdjust="spacingAndGlyphs" >3.2 M</text>
<text x="152" y="865.2" font-size="11.5" fill="#131722" font-weight="normal" text-anchor="middle" textLength="15" lengthAdjust="spacingAndGlyphs" >Jul</text>
<text x="297" y="865.2" font-size="11.5" fill="#131722" font-weight="bold" text-anchor="middle" textLength="26.6" lengthAdjust="spacingAndGlyphs" >2022</text>
<text x="441.8" y="865.2" font-size="11.5" fill="#131722" font-weight="normal" text-anchor="middle" textLength="15" lengthAdjust="spacingAndGlyphs" >Jul</text>
<text x="586.8" y="865.2" font-size="11.5" fill="#131722" font-weight="bold" text-anchor="middle" textLength="26.6" lengthAdjust="spacingAndGlyphs" >2023</text>
<text x="731.1" y="865.2" font-size="11.5" fill="#131722" font-weight="normal" text-anchor="middle" textLength="15" lengthAdjust="spacingAndGlyphs" >Jul</text>
<text x="1020.8" y="865.2" font-size="11.5" fill="#131722" font-weight="normal" text-anchor="middle" textLength="15" lengthAdjust="spacingAndGlyphs" >Jul</text>
<text x="1171.8" y="865.2" font-size="11.5" fill="#131722" font-weight="bold" text-anchor="middle" textLength="26.6" lengthAdjust="spacingAndGlyphs" >2025</text>
<text x="1316.4" y="865.2" font-size="11.5" fill="#131722" font-weight="normal" text-anchor="middle" textLength="15" lengthAdjust="spacingAndGlyphs" >Jul</text>
<text x="1461" y="865.2" font-size="11.5" fill="#131722" font-weight="bold" text-anchor="middle" textLength="26.6" lengthAdjust="spacingAndGlyphs" >2026</text>
<path d="M830 847.3h92.3v20a2.500 2.500 0 0 1-2.500 2.500h-87.300a2.500 2.500 0 0 1-2.500-2.500z" fill="#0e0e10"/>
<text x="838.4" y="865" font-size="12" fill="#fff" font-weight="bold" text-anchor="start" textLength="76" lengthAdjust="spacingAndGlyphs" >Mon 01 Jan '24</text>
<path d="M1556.800 855.500h7l3.400 5.700-3.400 5.700h-7l-3.400-5.700z" fill="none" stroke="#6b6e76" stroke-width="1.2" stroke-linejoin="round"/><circle cx="1560.300" cy="861.200" r="1.900" fill="none" stroke="#6b6e76" stroke-width="1.200"/>
<rect x="14" y="874" width="1582" height="1" fill="#f0f1f3"/>
<text x="24.6" y="896.6" font-size="13" fill="#131722" font-weight="normal" text-anchor="start" textLength="14.4" lengthAdjust="spacingAndGlyphs" >1D</text>
<text x="50.9" y="896.6" font-size="13" fill="#131722" font-weight="normal" text-anchor="start" textLength="15.1" lengthAdjust="spacingAndGlyphs" >5D</text>
<text x="79" y="896.6" font-size="13" fill="#131722" font-weight="normal" text-anchor="start" textLength="15.3" lengthAdjust="spacingAndGlyphs" >1M</text>
<text x="106.6" y="896.6" font-size="13" fill="#131722" font-weight="normal" text-anchor="start" textLength="16.0" lengthAdjust="spacingAndGlyphs" >3M</text>
<text x="134.3" y="896.6" font-size="13" fill="#131722" font-weight="normal" text-anchor="start" textLength="16.4" lengthAdjust="spacingAndGlyphs" >6M</text>
<text x="163" y="896.6" font-size="13" fill="#131722" font-weight="normal" text-anchor="start" textLength="22.6" lengthAdjust="spacingAndGlyphs" >YTD</text>
<text x="197.9" y="896.6" font-size="13" fill="#131722" font-weight="normal" text-anchor="start" textLength="15.0" lengthAdjust="spacingAndGlyphs" >1Y</text>
<rect x="220.5" y="878" width="21.5" height="26.6" rx="3" fill="#f0f0f0"/>
<text x="224.6" y="896.6" font-size="13" fill="#131722" font-weight="normal" text-anchor="start" textLength="14.3" lengthAdjust="spacingAndGlyphs" >5Y</text>
<text x="250.6" y="896.6" font-size="13" fill="#131722" font-weight="normal" text-anchor="start" textLength="16.0" lengthAdjust="spacingAndGlyphs" >All</text>
<rect x="275.500" y="882" width="1" height="20" fill="#f1f2f4"/>
<g fill="none" stroke="#2a2e39" stroke-width="1.2" stroke-linecap="round" stroke-linejoin="round"><path d="M291.5 892.5v-4.5a2 2 0 0 1 2-2h11.5a2 2 0 0 1 2 2v10.5a2 2 0 0 1-2 2h-5.5"/><path d="M291.5 889.5h15.5M295.5 884v3.5M303 884v3.5"/><path d="M289.5 896.5h7.5M294.5 893.8l2.7 2.7-2.7 2.7"/></g>
<text x="1503.4" y="896.6" font-size="13" fill="#131722" font-weight="normal" text-anchor="start" textLength="81.4" lengthAdjust="spacingAndGlyphs" >18:42:44 UTC</text>
<g fill="#fff" fill-opacity="0.8"><rect x="14" y="42" width="490" height="21"/><rect x="14" y="66" width="192" height="37"/><rect x="14" y="108" width="118" height="16"/><rect x="14" y="129" width="34" height="24"/></g>
<circle cx="27.4" cy="52.5" r="8.6" fill="#d6a010"/>
<path d="M26.5 48.9h3.300l1 3h-5.300zM23.400 52.500h3.500l0.900 3.200h-5.600zM28.900 52.500h3.500l1.200 3.200h-5.600z" fill="#fff"/>
<text x="40.3" y="58.3" font-size="14" fill="#131722" font-weight="normal" text-anchor="start" textLength="250.5" lengthAdjust="spacingAndGlyphs" >Gold Spot / U.S. Dollar · 1W · OANDA</text>
<path d="M306.9 44h10.9v16.6h-10.9a8.3 8.3 0 0 1 0-16.6z" fill="#dcefeb"/>
<path d="M317.8 44h11.1a8.3 8.3 0 0 1 0 16.6h-11.1z" fill="#f9b4c9"/>
<circle cx="309.5" cy="52.4" r="3.9" fill="#119b76"/>
<path d="M322.6 51c1.3-1.3 2.6-1.3 4 0s2.700 1.300 4 0M322.600 54.600c1.300-1.300 2.600-1.300 4 0s2.700 1.300 4 0" fill="none" stroke="#e01e5a" stroke-width="1.400"/>
<text x="345.3" y="57" font-size="11.5" fill="#4a98dc" font-weight="normal" text-anchor="start" textLength="54.3" lengthAdjust="spacingAndGlyphs" >2,045.625</text>
<text x="406.6" y="57" font-size="11.5" fill="#4a98dc" font-weight="normal" text-anchor="start" textLength="94" lengthAdjust="spacingAndGlyphs" >−17.345 (−0.84%)</text>
<rect x="19" y="68.6" width="73.400" height="31.700" rx="4.500" fill="#fff" stroke="#f4848c" stroke-width="1"/>
<rect x="128.100" y="68.600" width="74.400" height="31.700" rx="4.500" fill="#fff" stroke="#7c97f5" stroke-width="1"/>
<text x="28.6" y="81.6" font-size="11" fill="#f23645" font-weight="bold" text-anchor="start" textLength="47.3" lengthAdjust="spacingAndGlyphs" >4,631.61</text>
<text x="76.6" y="80.2" font-size="9.5" fill="#f23645" font-weight="normal" text-anchor="start" >0</text>
<text x="43.9" y="95.3" font-size="10" fill="#f23645" font-weight="normal" text-anchor="start" textLength="22" lengthAdjust="spacingAndGlyphs" >SELL</text>
<text x="100.9" y="88.7" font-size="10.5" fill="#50535e" font-weight="normal" text-anchor="start" textLength="19.1" lengthAdjust="spacingAndGlyphs" >93.0</text>
<text x="137.4" y="81.6" font-size="11" fill="#2962ff" font-weight="bold" text-anchor="start" textLength="47.3" lengthAdjust="spacingAndGlyphs" >4,632.54</text>
<text x="185.6" y="80.2" font-size="9.5" fill="#2962ff" font-weight="normal" text-anchor="start" >0</text>
<text x="154.6" y="95.3" font-size="10" fill="#2962ff" font-weight="normal" text-anchor="start" textLength="19.5" lengthAdjust="spacingAndGlyphs" >BUY</text>
<text x="18.9" y="120" font-size="11.5" fill="#131722" font-weight="normal" text-anchor="start" textLength="56.4" lengthAdjust="spacingAndGlyphs" >Vol · Ticks</text>
<text x="83.8" y="120" font-size="11.5" fill="#f23645" font-weight="normal" text-anchor="start" textLength="46.6" lengthAdjust="spacingAndGlyphs" >625.73 K</text>
<rect x="18.900" y="131.200" width="25.700" height="18.300" rx="3.500" fill="#fff" stroke="#e9e9ec" stroke-width="1"/>
<path d="M28.200 142.100l3.400-3.300 3.400 3.300" fill="none" stroke="#2a2e39" stroke-width="1.400"/>
<g fill="#131722" stroke="#fff" stroke-width="2" paint-order="stroke" stroke-linejoin="round"><path d="M21.8 819.3h11.2v14h-5.300v-8.700h-5.900z"/><circle cx="38.100" cy="821.800" r="2.300"/><path d="M43.600 819.300h6.200l-4.300 14h-6.600z"/>
<text x="57.0" y="833.3" font-size="19.5" fill="#131722" font-weight="bold" text-anchor="start" textLength="117" lengthAdjust="spacingAndGlyphs" >TradingView</text>
</g>
<circle cx="1467" cy="810" r="11.2" fill="#fff"/><circle cx="1467" cy="834.4" r="11.4" fill="#fff"/>
<circle cx="1467" cy="810" r="9.1" fill="#fff" stroke="#9a2fb5" stroke-width="1.600"/>
<path d="M1470.300 804.600l-6.900 6.300h3.500l-3.200 5 7-6.500h-3.600z" fill="#a52ac0"/>
<circle cx="1467" cy="834.400" r="9.300" fill="#fff" stroke="#d93c3c" stroke-width="1.700"/>
<clipPath id="fl"><circle cx="1467" cy="834.400" r="7.300"/></clipPath>
<g clip-path="url(#fl)"><rect x="1459" y="826" width="16" height="17" fill="#fff"/>
<rect x="1459" y="827.10" width="16" height="2.090" fill="#e5514f"/>
<rect x="1459" y="831.28" width="16" height="2.090" fill="#e5514f"/>
<rect x="1459" y="835.46" width="16" height="2.090" fill="#e5514f"/>
<rect x="1459" y="839.64" width="16" height="2.090" fill="#e5514f"/>
<rect x="1459" y="826" width="9.200" height="9.400" fill="#3f92e6"/></g>
<rect x="16" y="970" width="1101.500" height="11.500" fill="#d5d5d5"/>
<clipPath id="lc"><circle cx="1168.5" cy="975.8" r="38.4"/></clipPath>
<circle cx="1168.5" cy="975.8" r="38.4" fill="#1b365f"/>
<g clip-path="url(#lc)"><ellipse cx="1172.5" cy="984.5" rx="30" ry="29.5" fill="#e6e8ec"/>
<ellipse cx="1170.8" cy="985.3" rx="23" ry="28.5" fill="#3f6db8"/>
<ellipse cx="1165.3" cy="982" rx="21.3" ry="26.7" fill="#fff"/></g>
<text x="1223.5" y="991.4" font-size="50.5" fill="#3f6db8" font-weight="normal" text-anchor="start" textLength="108" lengthAdjust="spacingAndGlyphs" stroke="#3f6db8" stroke-width="1.1" stroke-linejoin="round">daily</text>
<text x="1330" y="991.4" font-size="50.5" fill="#162f5a" font-weight="bold" text-anchor="start" textLength="133.6" lengthAdjust="spacingAndGlyphs" stroke="#162f5a" stroke-width="0.6" stroke-linejoin="round">profit</text>
<text x="1462" y="991.4" font-size="50.5" fill="#4a5778" font-weight="normal" text-anchor="start" textLength="120" lengthAdjust="spacingAndGlyphs" stroke="#4a5778" stroke-width="1.1" stroke-linejoin="round">cycle</text>
</svg></body></html>
